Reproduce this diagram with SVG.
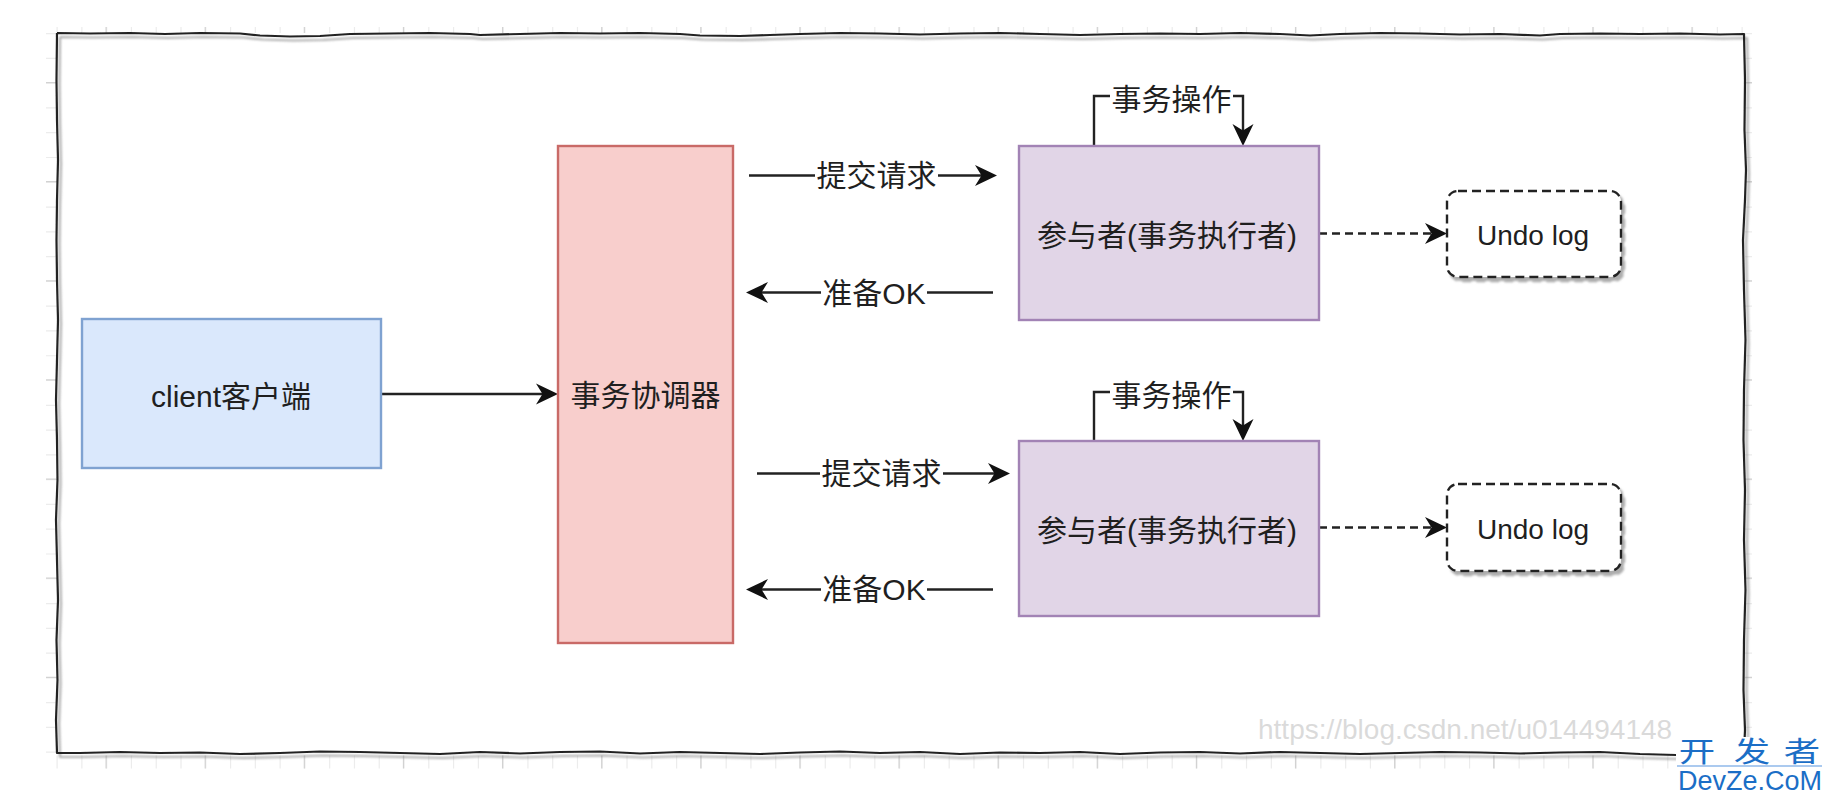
<svg xmlns="http://www.w3.org/2000/svg" width="1833" height="801" viewBox="0 0 1833 801">
<style>
.lbl{font-family:"Liberation Sans","Noto Sans CJK SC",sans-serif;font-size:30px;fill:#1f1f1f;text-anchor:middle;dominant-baseline:central}
.conn{stroke:#222;stroke-width:2.4;fill:none}
.dash{stroke-dasharray:8 5}
.bg{fill:#fff}
.tick1{stroke:#ececec;fill:none}
.tick2{stroke:#d2d2d2;fill:none}
.logo{font-family:"Noto Sans CJK SC","Liberation Sans",sans-serif;fill:#1b6ec6;text-anchor:middle}
</style>
<defs>
<marker id="arr" markerUnits="userSpaceOnUse" viewBox="0 0 24 24" markerWidth="24" markerHeight="24" refX="14" refY="12" orient="auto">
<path d="M0,1.5 L22,12 L0,22.5 L6.5,12 Z" fill="#111"/>
</marker>
<filter id="sh" x="-5%" y="-5%" width="110%" height="115%">
<feDropShadow dx="3" dy="4" stdDeviation="1.2" flood-color="#8a8a8a" flood-opacity="0.7"/>
</filter>
</defs>
<rect width="1833" height="801" fill="#fff"/>
<g id="ticks">
<line class="tick1" x1="56.5" y1="30" x2="1750" y2="30" stroke-width="6" stroke-dasharray="1.2 23.58"/>
<line class="tick2" x1="105.5" y1="30" x2="1750" y2="30" stroke-width="6" stroke-dasharray="1.2 97.92"/>
<line class="tick1" x1="56.5" y1="762" x2="1680" y2="762" stroke-width="13" stroke-dasharray="1.2 23.58"/>
<line class="tick2" x1="105.5" y1="762" x2="1680" y2="762" stroke-width="13" stroke-dasharray="1.2 97.92"/>
<line class="tick1" x1="51.5" y1="33" x2="51.5" y2="760" stroke-width="11" stroke-dasharray="1.2 23.58"/>
<line class="tick2" x1="51.5" y1="82" x2="51.5" y2="760" stroke-width="11" stroke-dasharray="1.2 97.92"/>
<line class="tick1" x1="1748.5" y1="33" x2="1748.5" y2="736" stroke-width="7" stroke-dasharray="1.2 23.58"/>
<line class="tick2" x1="1748.5" y1="82" x2="1748.5" y2="736" stroke-width="7" stroke-dasharray="1.2 97.92"/>
</g>
<g id="frame">
<polyline filter="url(#sh)" fill="none" stroke="#222" stroke-width="2.2" stroke-linejoin="round" points="57,33 90,33.5 130,33 165,34 200,33 240,33.5 260,35.5 290,36.5 320,36 350,34 390,33.5 430,33 470,34 480,35 520,34 560,33 600,33.5 640,33 680,34 700,35.5 740,36 770,35 800,34 840,33 880,33.5 920,34.5 960,33.5 1000,33 1040,34 1080,35 1120,34 1160,33.5 1200,34 1240,33 1280,34 1310,35.5 1340,34 1380,33 1420,33.5 1460,34.5 1500,34 1540,35.5 1560,34 1600,33.5 1640,34 1680,33.5 1720,34.5 1744,34 1745,80 1744.5,130 1746,170 1745,200 1743,240 1744,290 1745.5,340 1744,390 1743.5,440 1745,490 1744,540 1745.5,590 1744,640 1743.5,690 1745,730 1744,752 1700,753 1676,755 1640,754 1600,752 1560,752.5 1520,753.5 1480,752.5 1440,752 1400,753 1360,754 1320,753 1280,752 1240,753.5 1200,752 1160,752.5 1120,754 1080,752 1040,753 1000,752.5 960,754 920,752 880,753 840,751.5 800,752.5 760,754 720,753 680,752 640,753.5 600,751.5 560,752 520,753.5 480,752 440,754 400,753 360,752 320,751.5 280,753 240,754 200,752.5 160,753 120,752 80,753 57,753 56,720 57.5,680 56.5,640 58,600 57,560 56,520 57.5,480 57,440 56,400 57,360 58,320 57,280 56.5,240 57,200 58,160 57,120 56.5,80 57,33"/>
</g>
<g id="connectors">
<path class="conn" d="M381,394 H550" marker-end="url(#arr)"/>
<path class="conn" d="M749,175.5 H989" marker-end="url(#arr)"/>
<path class="conn" d="M993,292.5 H754" marker-end="url(#arr)"/>
<path class="conn" d="M757,473.5 H1002" marker-end="url(#arr)"/>
<path class="conn" d="M993,589.5 H754" marker-end="url(#arr)"/>
<path class="conn" d="M1094,146 V96 H1243 V138" marker-end="url(#arr)"/>
<path class="conn" d="M1094,441 V392 H1243 V433" marker-end="url(#arr)"/>
<path class="conn dash" d="M1319,233.5 H1439" marker-end="url(#arr)"/>
<path class="conn dash" d="M1319,527.5 H1439" marker-end="url(#arr)"/>
<rect class="bg" x="815" y="160" width="123" height="31"/>
<text class="lbl" x="876.5" y="175">提交请求</text>
<rect class="bg" x="821" y="277" width="106" height="31"/>
<text class="lbl" x="874" y="293">准备OK</text>
<rect class="bg" x="820" y="458" width="123" height="31"/>
<text class="lbl" x="881.5" y="473">提交请求</text>
<rect class="bg" x="821" y="574" width="106" height="31"/>
<text class="lbl" x="874" y="589">准备OK</text>
<rect class="bg" x="1110" y="84" width="123" height="30"/>
<text class="lbl" x="1171.5" y="99">事务操作</text>
<rect class="bg" x="1110" y="380" width="123" height="30"/>
<text class="lbl" x="1171.5" y="395">事务操作</text>
</g>
<g id="client">
<rect x="82" y="319" width="299" height="149" fill="#dae8fc" stroke="#7fa2d1" stroke-width="2.4"/>
<text class="lbl" x="231" y="396">client客户端</text>
</g>
<g id="coordinator">
<rect x="558" y="146" width="175" height="497" fill="#f8cecc" stroke="#c96a67" stroke-width="2.4"/>
<text class="lbl" x="645.5" y="395">事务协调器</text>
</g>
<g id="participant1">
<rect x="1019" y="146" width="300" height="174" fill="#e1d5e7" stroke="#a283b5" stroke-width="2.4"/>
<text class="lbl" x="1167" y="235">参与者(事务执行者)</text>
</g>
<g id="participant2">
<rect x="1019" y="441" width="300" height="175" fill="#e1d5e7" stroke="#a283b5" stroke-width="2.4"/>
<text class="lbl" x="1167" y="530">参与者(事务执行者)</text>
</g>
<g id="undolog1">
<rect x="1447" y="191" width="174" height="86" rx="11" fill="#fff" stroke="#222" stroke-width="2.4" stroke-dasharray="9 5" filter="url(#sh)"/>
<text class="lbl" x="1533" y="235" style="font-size:28px">Undo log</text>
</g>
<g id="undolog2">
<rect x="1447" y="484" width="174" height="87" rx="11" fill="#fff" stroke="#222" stroke-width="2.4" stroke-dasharray="9 5" filter="url(#sh)"/>
<text class="lbl" x="1533" y="529" style="font-size:28px">Undo log</text>
</g>
<text x="1258" y="739" font-family="Liberation Sans, sans-serif" font-size="28" fill="#d4d4d4" fill-opacity="0.85">https://blog.csdn.net/u014494148</text>
<g id="logo">
<rect x="1676" y="737" width="157" height="64" fill="#fff"/>
<text class="logo" font-size="28" transform="translate(1697,762) scale(1.3,1)">开</text>
<text class="logo" font-size="28" transform="translate(1752,762) scale(1.3,1)">发</text>
<text class="logo" font-size="28" transform="translate(1802,762) scale(1.3,1)">者</text>
<line x1="1677" y1="766" x2="1822" y2="766" stroke="#8fb8ea" stroke-width="1.5"/>
<text x="1678" y="790" font-family="Liberation Sans, sans-serif" font-size="27" fill="#1b6ec6" textLength="144" lengthAdjust="spacingAndGlyphs">DevZe.CoM</text>
</g>
</svg>
